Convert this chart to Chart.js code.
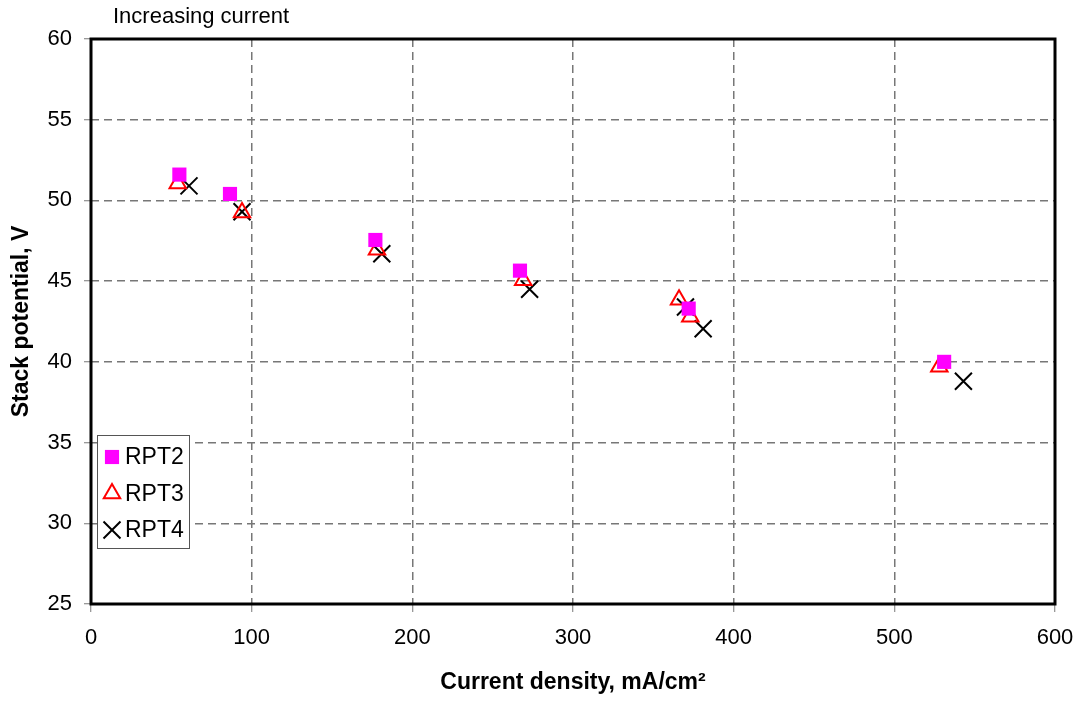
<!DOCTYPE html>
<html>
<head>
<meta charset="utf-8">
<script src="https://cdn.jsdelivr.net/npm/chart.js@4"></script>
<style>
  html, body { margin: 0; padding: 0; background: #fff; }
  #wrap { width: 1083px; height: 702px; position: relative; }
</style>
</head>
<body>
<div id="wrap"><canvas id="chart"></canvas></div>
<script>
// ─── DATA ────────────────────────────────────────────────
const rpt2X = [55, 86.5, 177, 267, 372, 531];
const rpt2Y = [51.6, 50.4, 47.55, 45.65, 43.3, 40.0];

const rpt3X = [54, 94, 178, 269, 366, 373, 528];
const rpt3Y = [51.05, 49.25, 46.95, 45.05, 43.85, 42.8, 39.7];

const rpt4X = [61, 94, 181, 273, 370, 381, 543];
const rpt4Y = [50.9, 49.3, 46.7, 44.5, 43.4, 42.05, 38.8];

const xTicks = { min: 0, max: 600, step: 100 };
const yTicks = { min: 25, max: 60, step: 5 };

const chartNote = 'Increasing current';
const xTitle = 'Current density, mA/cm²';
const yTitle = 'Stack potential, V';

const toPts = (xs, ys) => xs.map((x, i) => ({ x, y: ys[i] }));

// ─── DEFAULTS ────────────────────────────────────────────
Chart.defaults.font.family = "'Liberation Sans', Arial, sans-serif";
Chart.defaults.color = '#000';

// frame around plot area + note text + inset legend
const framePlugin = {
    id: 'frame',
    beforeDatasetsDraw(chart) {
        const { ctx, chartArea: a } = chart;
        ctx.save();
        ctx.strokeStyle = '#000';
        ctx.lineWidth = 3;
        ctx.strokeRect(a.left, a.top, a.right - a.left, a.bottom - a.top);
        ctx.restore();
    },
    afterDraw(chart) {
        const { ctx, chartArea: a } = chart;
        ctx.save();
        ctx.fillStyle = '#000';
        ctx.font = "22px 'Liberation Sans', Arial, sans-serif";
        ctx.textBaseline = 'middle';
        ctx.textAlign = 'left';
        ctx.fillText(chartNote, 113, 17);

        // legend box
        const bx = a.left + 6, by = 435, bw = 92, bh = 113;
        ctx.fillStyle = '#fff';
        ctx.fillRect(bx, by, bw, bh);
        ctx.strokeStyle = '#555';
        ctx.lineWidth = 1;
        ctx.strokeRect(bx + 0.5, by + 0.5, bw, bh);

        chart.data.datasets.forEach((ds, i) => {
            const cy = by + 22 + i * 36.5;
            const cx = bx + 15;
            ctx.fillStyle = ds.backgroundColor;
            ctx.strokeStyle = ds.borderColor;
            ctx.lineWidth = ds.borderWidth;
            Chart.helpers.drawPoint(ctx, {
                pointStyle: ds.pointStyle,
                radius: ds.pointRadius,
                rotation: 0,
                borderWidth: ds.borderWidth,
            }, cx, cy);
            ctx.fillStyle = '#000';
            ctx.font = "23px 'Liberation Sans', Arial, sans-serif";
            ctx.textBaseline = 'middle';
            ctx.fillText(ds.label, bx + 28, cy + 1);
        });
        ctx.restore();
    },
};

const gridOpts = {
    color: '#777',
    lineWidth: 1.5,
    tickColor: '#777',
    tickWidth: 1,
    tickBorderDash: [],
};

new Chart(document.getElementById('chart'), {
    type: 'scatter',
    data: {
        datasets: [
            {
                label: 'RPT2',
                data: toPts(rpt2X, rpt2Y),
                pointStyle: 'rect',
                pointRadius: 10,
                pointHoverRadius: 10,
                backgroundColor: '#FF00FF',
                borderColor: '#FF00FF',
                borderWidth: 0,
            },
            {
                label: 'RPT3',
                data: toPts(rpt3X, rpt3Y),
                pointStyle: 'triangle',
                pointRadius: 9.5,
                pointHoverRadius: 9.5,
                backgroundColor: 'rgba(0,0,0,0)',
                borderColor: '#FF0000',
                borderWidth: 2,
            },
            {
                label: 'RPT4',
                data: toPts(rpt4X, rpt4Y),
                pointStyle: 'crossRot',
                pointRadius: 12,
                pointHoverRadius: 12,
                backgroundColor: '#000',
                borderColor: '#000',
                borderWidth: 2,
            },
        ],
    },
    options: {
        responsive: true,
        maintainAspectRatio: false,
        animation: false,
        layout: { padding: { left: 0, top: 39, right: 28, bottom: 0 } },
        plugins: {
            legend: { display: false },
            tooltip: { enabled: false },
        },
        scales: {
            x: {
                type: 'linear',
                min: xTicks.min,
                max: xTicks.max,
                afterFit: (s) => { s.height = 98; s.paddingLeft = 0; s.paddingRight = 0; },
                ticks: { stepSize: xTicks.step, padding: 13, font: { size: 22 } },
                grid: { ...gridOpts, tickLength: 8 },
                border: { display: false, dash: [8, 5] },
                title: { display: true, text: xTitle, font: { size: 23, weight: 'bold' }, padding: { top: 0, bottom: 6 } },
            },
            y: {
                type: 'linear',
                min: yTicks.min,
                max: yTicks.max,
                afterFit: (s) => { s.width = 91; },
                ticks: { stepSize: yTicks.step, padding: 12, font: { size: 22 } },
                grid: { ...gridOpts, tickLength: 7 },
                border: { display: false, dash: [8, 5] },
                title: { display: true, text: yTitle, font: { size: 23, weight: 'bold' }, padding: { top: 8, bottom: 0 } },
            },
        },
    },
    plugins: [framePlugin],
});
</script>
</body>
</html>
